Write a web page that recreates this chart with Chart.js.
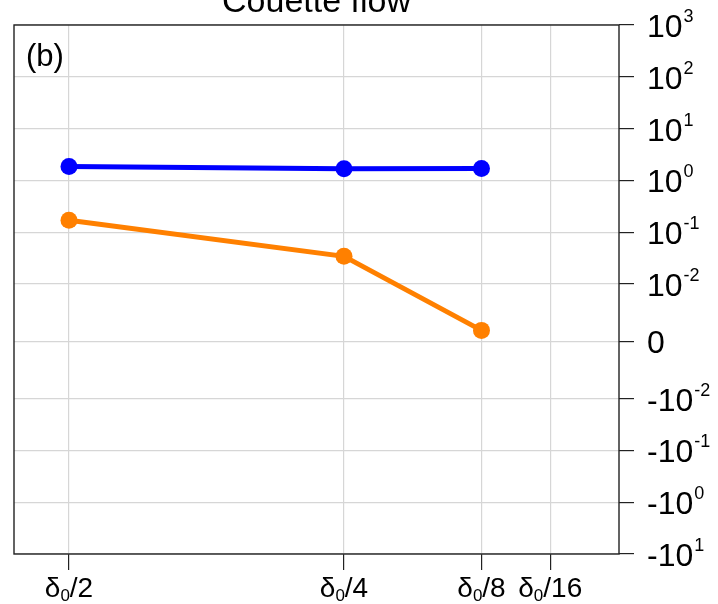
<!DOCTYPE html>
<html>
<head>
<meta charset="utf-8">
<script src="https://cdn.jsdelivr.net/npm/chart.js@4.4.0/dist/chart.umd.min.js"></script>
<style>
  html, body { margin: 0; padding: 0; background: #fff; }
  canvas { display: block; }
</style>
</head>
<body>
<canvas id="chart" width="718" height="604"></canvas>
<script>
// x positions are h / delta0
const xValues = [0.5, 0.25, 0.125];
const seriesBlue = [1.86, 1.68, 1.70];
const seriesOrange = [0.169, 0.0341, 0.0019];

const xTickValues = [0.5, 0.25, 0.125, 0.0625];
const xTickDenoms = ['2', '4', '8', '16'];

const yTickValues = [1000, 100, 10, 1, 0.1, 0.01, 0, -0.01, -0.1, -1, -10];
const yTickBase = ['10', '10', '10', '10', '10', '10', '0', '-10', '-10', '-10', '-10'];
const yTickExp = ['3', '2', '1', '0', '-1', '-2', '', '-2', '-1', '0', '1'];

// symmetric log: linear between -0.01 and 0.01
const linThresh = 0.01;
const linWidth = 1.108;
function symlog(v) {
    const a = Math.abs(v);
    if (a < linThresh) return v / linThresh * linWidth;
    return Math.sign(v) * (Math.log10(a / linThresh) + linWidth);
}

const FONT = "'Liberation Sans', Arial, sans-serif";

const toPoints = arr => arr.map((v, i) => ({ x: xValues[i], y: symlog(v) }));

const framePlugin = {
    id: 'frame',
    beforeDatasetsDraw(chart) {
        const { ctx, chartArea: a } = chart;
        ctx.save();
        ctx.strokeStyle = '#222';
        ctx.lineWidth = 1.4;
        ctx.strokeRect(a.left, a.top, a.right - a.left, a.bottom - a.top);
        ctx.restore();
    },
    afterDraw(chart) {
        const { ctx, chartArea: a } = chart;
        const xs = chart.scales.x;
        const ys = chart.scales.y;
        ctx.save();
        ctx.fillStyle = '#000';

        // title (cut at top like the original)
        ctx.font = `34px ${FONT}`;
        ctx.textAlign = 'center';
        ctx.textBaseline = 'alphabetic';
        ctx.fillText('Couette flow', (a.left + a.right) / 2, 12);

        // panel tag
        ctx.textAlign = 'left';
        ctx.font = `31px ${FONT}`;
        ctx.fillText('(b)', a.left + 12, 66);

        // y labels with exponents
        yTickValues.forEach((v, i) => {
            const py = ys.getPixelForValue(symlog(v));
            const x0 = a.right + 28;
            ctx.font = `32px ${FONT}`;
            ctx.textAlign = 'left';
            ctx.fillText(yTickBase[i], x0, py + 12);
            const w = ctx.measureText(yTickBase[i]).width;
            if (yTickExp[i]) {
                ctx.font = `18px ${FONT}`;
                ctx.fillText(yTickExp[i], x0 + w + 1, py - 3);
            }
        });

        // x labels: delta_0 / n
        xTickValues.forEach((v, i) => {
            const px = xs.getPixelForValue(v);
            const big = `28px ${FONT}`;
            const small = `17px ${FONT}`;
            ctx.font = big;
            const wd = ctx.measureText('\u03b4').width;
            const wr = ctx.measureText('/' + xTickDenoms[i]).width;
            ctx.font = small;
            const ws = ctx.measureText('0').width;
            let x = px - (wd + ws + wr) / 2;
            const base = a.bottom + 43;
            ctx.textAlign = 'left';
            ctx.font = big;
            ctx.fillText('\u03b4', x, base);
            x += wd;
            ctx.font = small;
            ctx.fillText('0', x, base + 4);
            x += ws;
            ctx.font = big;
            ctx.fillText('/' + xTickDenoms[i], x, base);
        });
        ctx.restore();
    }
};

new Chart(document.getElementById('chart').getContext('2d'), {
    type: 'line',
    data: {
        datasets: [{
            data: toPoints(seriesBlue),
            borderColor: '#0000ff',
            backgroundColor: '#0000ff',
            borderWidth: 5,
            pointRadius: 8.5,
            pointBorderWidth: 0
        }, {
            data: toPoints(seriesOrange),
            borderColor: '#ff8000',
            backgroundColor: '#ff8000',
            borderWidth: 5,
            pointRadius: 8.5,
            pointBorderWidth: 0
        }]
    },
    options: {
        responsive: false,
        animation: false,
        layout: { padding: { left: 14, top: 25, right: 0, bottom: 0 } },
        plugins: {
            legend: { display: false },
            tooltip: { enabled: false }
        },
        scales: {
            x: {
                type: 'linear',
                reverse: true,
                min: 0,
                max: 0.55,
                afterBuildTicks: s => { s.ticks = xTickValues.map(v => ({ value: v })); },
                afterFit: s => { s.height = 50; },
                grid: { color: '#d6d6d6', tickColor: '#222', tickLength: 16, lineWidth: 1.2 },
                border: { display: false },
                ticks: { display: false }
            },
            y: {
                type: 'linear',
                position: 'right',
                min: symlog(-10),
                max: symlog(1000),
                afterBuildTicks: s => { s.ticks = yTickValues.map(v => ({ value: symlog(v) })); },
                afterFit: s => { s.width = 99; },
                grid: { color: '#d6d6d6', tickColor: '#222', tickLength: 15, lineWidth: 1.2 },
                border: { display: false },
                ticks: { display: false }
            }
        }
    },
    plugins: [framePlugin]
});
</script>
</body>
</html>
